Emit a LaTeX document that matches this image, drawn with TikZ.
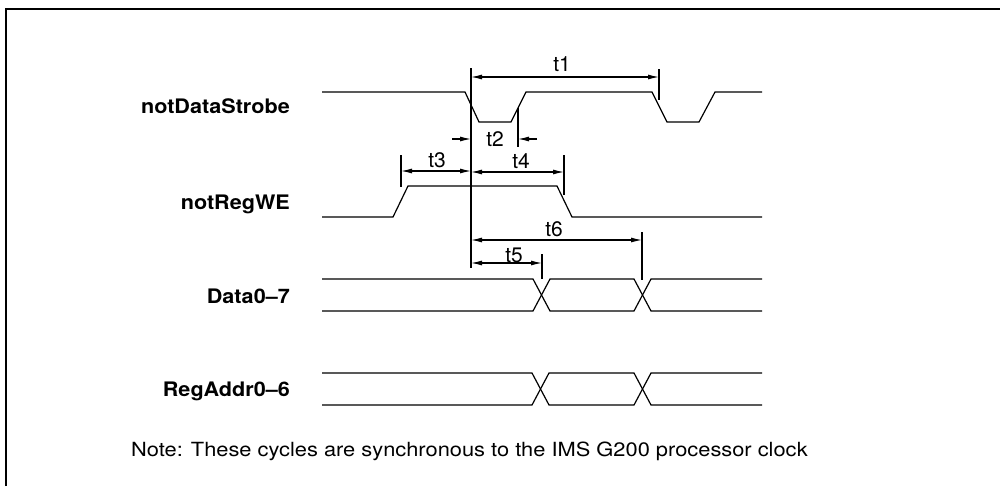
\documentclass[tikz,border=0pt]{standalone}
\usepackage{fontspec}
\setmainfont{TeX Gyre Heros}
\newfontfamily\lblfont[FakeStretch=1.08]{TeX Gyre Heros}
\newfontfamily\notefont[FakeStretch=1.12]{TeX Gyre Heros}
\newfontfamily\tfont{TeX Gyre Heros}
\usetikzlibrary{arrows.meta}
\begin{document}
\begin{tikzpicture}[x=1pt,y=-1pt,
  sig/.style={line width=1.2pt,line join=miter},
  reftick/.style={line width=1.2pt},
  dim/.style={line width=1.1pt,{Latex[length=11pt,width=5pt]}-{Latex[length=11pt,width=5pt]}},
  onearrow/.style={line width=1.1pt,-{Latex[length=11pt,width=5pt]}},
  siglabel/.style={font=\lblfont\bfseries\fontsize{20}{22}\selectfont,anchor=base east,inner sep=0pt},
  tlabel/.style={font=\tfont\fontsize{21}{22}\selectfont,inner sep=0pt},
  notelabel/.style={font=\notefont\fontsize{19.5}{22}\selectfont,anchor=base west,inner sep=0pt}]
\useasboundingbox (0,0) rectangle (1000,488);
% frame
\draw[line width=1.3pt] (6,486) -- (6,9) -- (1000,9);
% signal labels
\node[siglabel] (lDS) at (290,113) {notDataStrobe};
\node[siglabel] (lWE) at (290,209) {notRegWE};
\node[siglabel] (lD) at (290,303) {Data0\textendash7};
\node[siglabel] (lA) at (290,396) {RegAddr0\textendash6};
% notDataStrobe
\draw[sig] (322,92) -- (465,92) -- (479,122) -- (511,122) -- (526,92) -- (652,92) -- (667,122) -- (699,122) -- (715,92) -- (762,92);
% notRegWE
\draw[sig] (322,217) -- (393,217) -- (408,186) -- (557,186) -- (572,217) -- (762,217);
% Data0-7
\draw[sig] (322,279) -- (533,279) -- (550,311) -- (634,311) -- (651,279) -- (762,279);
\draw[sig] (322,311) -- (533,311) -- (550,279) -- (634,279) -- (651,311) -- (762,311);
% RegAddr0-6
\draw[sig] (322,373) -- (532,373) -- (549,405) -- (634,405) -- (651,373) -- (762,373);
\draw[sig] (322,405) -- (532,405) -- (549,373) -- (634,373) -- (651,405) -- (762,405);
% reference line and ticks
\coordinate (refTop) at (471,68);
\coordinate (refBot) at (471,268);
\draw[line width=1.4pt] (refTop) -- (refBot);
\coordinate (k1a) at (659,69); \coordinate (k1b) at (659,100);
\coordinate (k2a) at (518,108); \coordinate (k2b) at (518,147);
\coordinate (k3a) at (401,155); \coordinate (k3b) at (401,187);
\coordinate (k4a) at (564,155); \coordinate (k4b) at (564,195);
\coordinate (k6a) at (642,232); \coordinate (k6b) at (642,280);
\coordinate (k5a) at (542,254); \coordinate (k5b) at (542,279);
\foreach \k in {1,2,3,4,5,6} {\draw[reftick] (k\k a) -- (k\k b);}
% t1
\coordinate (a1l) at (471,77); \coordinate (a1r) at (659,77);
\draw[dim] (a1l) -- (a1r);
\node[tlabel] (t1) at (562,64) {t1};
% t2
\coordinate (a2s) at (452,139); \coordinate (a2e) at (471,139);
\coordinate (a2s2) at (537,139); \coordinate (a2e2) at (518,139);
\draw[onearrow] (a2s) -- (a2e);
\draw[onearrow] (a2s2) -- (a2e2);
\node[tlabel] (t2) at (495,139) {t2};
% t3
\coordinate (a3l) at (401,171); \coordinate (a3r) at (471,171);
\draw[dim] (a3l) -- (a3r);
\node[tlabel] (t3) at (437,160) {t3};
% t4
\coordinate (a4l) at (471,172); \coordinate (a4r) at (564,172);
\draw[dim] (a4l) -- (a4r);
\node[tlabel] (t4) at (521,161) {t4};
% t6
\coordinate (a6l) at (471,240); \coordinate (a6r) at (642,240);
\draw[dim] (a6l) -- (a6r);
\node[tlabel] (t6) at (554,229) {t6};
% t5
\coordinate (a5l) at (471,263); \coordinate (a5r) at (542,263);
\draw[dim] (a5l) -- (a5r);
\node[tlabel] (t5) at (514,255) {t5};
% note
\node[notelabel] (note) at (131,456) {Note: These cycles are synchronous to the IMS G200 processor clock};
\end{tikzpicture}
\end{document}
